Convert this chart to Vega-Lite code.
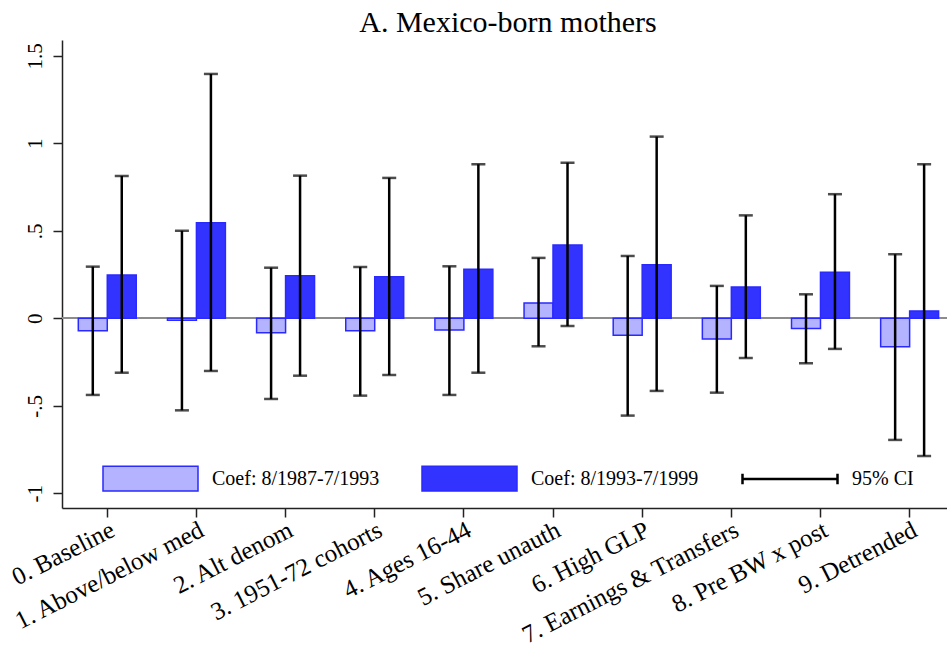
{
  "$schema": "https://vega.github.io/schema/vega-lite/v6.json",
  "autosize": {"type": "none"},
  "padding": {"left": 62, "top": 40, "right": 0, "bottom": 146},
  "width": 885,
  "height": 468,
  "background": "white",
  "title": {
    "text": "A. Mexico-born mothers",
    "font": "Liberation Serif",
    "fontSize": 30,
    "fontWeight": "normal",
    "color": "black",
    "anchor": "middle",
    "baseline": "alphabetic",
    "offset": 9,
    "dx": 3.5,
    "dy": 31
  },
  "config": {
    "view": {"stroke": null},
    "axis": {
      "labelFont": "Liberation Serif",
      "labelColor": "black",
      "domainColor": "#222222",
      "domainWidth": 1.5,
      "tickColor": "#222222",
      "tickWidth": 1.5,
      "tickSize": 9,
      "grid": false,
      "title": null
    },
    "legend": {
      "labelFont": "Liberation Serif",
      "labelFontSize": 20,
      "labelColor": "black",
      "labelLimit": 400,
      "padding": 0,
      "title": null
    }
  },
  "data": {
    "values": [
      {"spec": "0. Baseline", "period": "Coef: 8/1987-7/1993", "coef": -0.071, "lo": -0.438, "hi": 0.295},
      {"spec": "0. Baseline", "period": "Coef: 8/1993-7/1999", "coef": 0.247, "lo": -0.311, "hi": 0.813},
      {"spec": "1. Above/below med", "period": "Coef: 8/1987-7/1993", "coef": -0.011, "lo": -0.526, "hi": 0.5},
      {"spec": "1. Above/below med", "period": "Coef: 8/1993-7/1999", "coef": 0.546, "lo": -0.301, "hi": 1.396},
      {"spec": "2. Alt denom", "period": "Coef: 8/1987-7/1993", "coef": -0.082, "lo": -0.461, "hi": 0.289},
      {"spec": "2. Alt denom", "period": "Coef: 8/1993-7/1999", "coef": 0.243, "lo": -0.328, "hi": 0.815},
      {"spec": "3. 1951-72 cohorts", "period": "Coef: 8/1987-7/1993", "coef": -0.071, "lo": -0.442, "hi": 0.293},
      {"spec": "3. 1951-72 cohorts", "period": "Coef: 8/1993-7/1999", "coef": 0.238, "lo": -0.324, "hi": 0.802},
      {"spec": "4. Ages 16-44", "period": "Coef: 8/1987-7/1993", "coef": -0.067, "lo": -0.438, "hi": 0.297},
      {"spec": "4. Ages 16-44", "period": "Coef: 8/1993-7/1999", "coef": 0.28, "lo": -0.311, "hi": 0.88},
      {"spec": "5. Share unauth", "period": "Coef: 8/1987-7/1993", "coef": 0.087, "lo": -0.16, "hi": 0.345},
      {"spec": "5. Share unauth", "period": "Coef: 8/1993-7/1999", "coef": 0.419, "lo": -0.044, "hi": 0.889},
      {"spec": "6. High GLP", "period": "Coef: 8/1987-7/1993", "coef": -0.097, "lo": -0.556, "hi": 0.356},
      {"spec": "6. High GLP", "period": "Coef: 8/1993-7/1999", "coef": 0.306, "lo": -0.415, "hi": 1.038},
      {"spec": "7. Earnings & Transfers", "period": "Coef: 8/1987-7/1993", "coef": -0.118, "lo": -0.425, "hi": 0.185},
      {"spec": "7. Earnings & Transfers", "period": "Coef: 8/1993-7/1999", "coef": 0.179, "lo": -0.227, "hi": 0.588},
      {"spec": "8. Pre BW x post", "period": "Coef: 8/1987-7/1993", "coef": -0.059, "lo": -0.257, "hi": 0.137},
      {"spec": "8. Pre BW x post", "period": "Coef: 8/1993-7/1999", "coef": 0.263, "lo": -0.175, "hi": 0.709},
      {"spec": "9. Detrended", "period": "Coef: 8/1987-7/1993", "coef": -0.162, "lo": -0.695, "hi": 0.366},
      {"spec": "9. Detrended", "period": "Coef: 8/1993-7/1999", "coef": 0.042, "lo": -0.787, "hi": 0.88}
    ]
  },
  "encoding": {
    "x": {
      "field": "spec",
      "type": "nominal",
      "sort": null,
      "scale": {"paddingInner": 0.35, "paddingOuter": 0.1385, "align": 0.66},
      "axis": {
        "labelFontSize": 25,
        "labelAngle": -27,
        "labelAlign": "right",
        "labelBaseline": "top",
        "labelPadding": 0,
        "labelLimit": 500,
        "labelOverlap": false,
        "labelBound": false
      }
    }
  },
  "layer": [
    {
      "mark": {"type": "rule", "color": "#8c8c8c", "strokeWidth": 1.5},
      "encoding": {
        "x": null,
        "y": {"datum": 0, "type": "quantitative"}
      }
    },
    {
      "mark": {"type": "bar", "stroke": "#2a2aff", "strokeWidth": 1.5},
      "encoding": {
        "xOffset": {"field": "period", "type": "nominal", "scale": {"paddingInner": 0, "paddingOuter": 0}},
        "y": {
          "field": "coef",
          "type": "quantitative",
          "scale": {"domain": [-1.084, 1.59], "nice": false, "zero": false},
          "axis": {
            "values": [-1, -0.5, 0, 0.5, 1, 1.5],
            "labelExpr": "datum.value == 0.5 ? '.5' : datum.value == -0.5 ? '-.5' : datum.value == 1.5 ? '1.5' : datum.value == -1 ? '-1' : datum.value == 1 ? '1' : '0'",
            "labelFontSize": 21,
            "labelAngle": -90,
            "labelAlign": "center",
            "labelBaseline": "alphabetic",
            "labelPadding": 12
          }
        },
        "color": {
          "field": "period",
          "type": "nominal",
          "scale": {
            "domain": ["Coef: 8/1987-7/1993", "Coef: 8/1993-7/1999"],
            "range": ["#b3b3ff", "#3333ff"]
          },
          "legend": {
            "orient": "none",
            "direction": "horizontal",
            "legendX": 40,
            "legendY": 390,
            "symbolSize": 9025,
            "symbolType": "M-1,-0.26H1V0.26H-1Z",
            "symbolStrokeColor": "#2a2aff",
            "symbolStrokeWidth": 1.5,
            "symbolOpacity": 1,
            "labelOffset": 13,
            "columnPadding": 39
          }
        }
      }
    },
    {
      "mark": {"type": "rule", "strokeWidth": 2.5},
      "encoding": {
        "xOffset": {"field": "period", "type": "nominal"},
        "y": {"field": "lo", "type": "quantitative"},
        "y2": {"field": "hi"},
        "stroke": {
          "datum": "95% CI",
          "scale": {"domain": ["95% CI"], "range": ["black"]},
          "legend": {
            "orient": "none",
            "direction": "horizontal",
            "legendX": 679,
            "legendY": 390,
            "symbolSize": 9025,
            "symbolType": "M-1,-0.11V0.11M-1,0H1M1,-0.11V0.11",
            "symbolStrokeWidth": 2.5,
            "symbolFillColor": "transparent",
            "labelOffset": 13
          }
        }
      }
    },
    {
      "mark": {"type": "tick", "size": 14, "thickness": 2.5, "color": "black"},
      "encoding": {
        "xOffset": {"field": "period", "type": "nominal"},
        "y": {"field": "lo", "type": "quantitative"}
      }
    },
    {
      "mark": {"type": "tick", "size": 14, "thickness": 2.5, "color": "black"},
      "encoding": {
        "xOffset": {"field": "period", "type": "nominal"},
        "y": {"field": "hi", "type": "quantitative"}
      }
    }
  ]
}
